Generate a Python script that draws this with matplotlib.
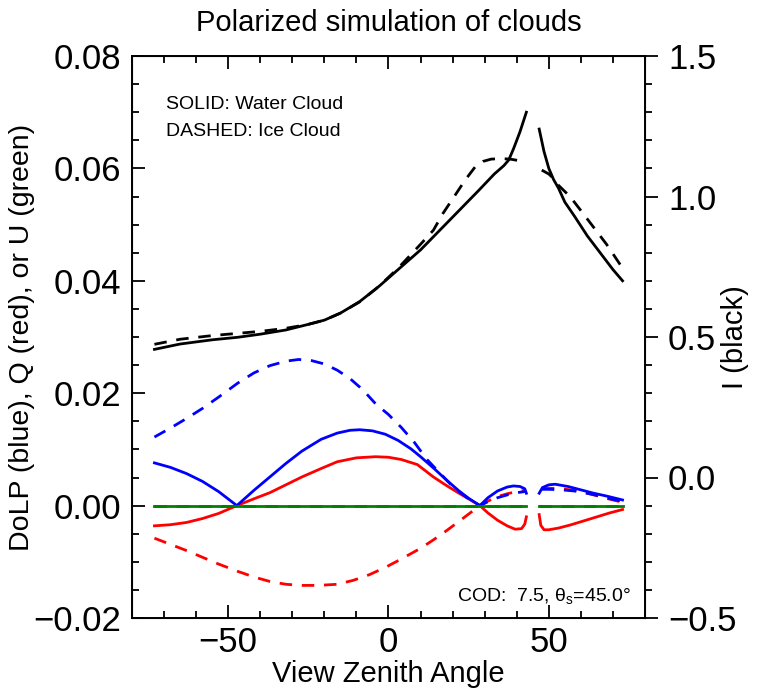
import numpy as np
import matplotlib
matplotlib.use("Agg")
import matplotlib.pyplot as plt
from matplotlib.ticker import MultipleLocator, FuncFormatter

plt.rcParams['font.family'] = ['Liberation Sans', 'DejaVu Sans']
plt.rcParams['mathtext.fontset'] = 'custom'
plt.rcParams['mathtext.rm'] = 'Liberation Sans'
plt.rcParams['mathtext.it'] = 'Liberation Sans:italic'

nan = np.nan

# I (black, right axis)
x_i_water = [-73, -65, -55, -47, -40, -32, -25, -20, -15, -9, -3, 3, 10, 16, 22, 28, 33, 36, 37.5, 39, 41, 43,
             45,
             47, 48.5, 50, 51.5, 53, 55, 58, 62, 66, 70, 73]
i_water = [0.456, 0.475, 0.49, 0.499, 0.51, 0.525, 0.545, 0.56, 0.585, 0.626, 0.68, 0.74, 0.81, 0.88, 0.95, 1.02,
           1.08, 1.11, 1.13, 1.17, 1.23, 1.30,
           nan,
           1.24, 1.16, 1.10, 1.06, 1.03, 0.98, 0.93, 0.86, 0.80, 0.74, 0.70]

x_i_ice = [-73, -65, -55, -47, -40, -32, -25, -20, -15, -9, -3, 3, 10, 14, 17, 20.5, 24, 27, 29.5, 32, 35, 38,
           40.5, 42.6,
           45,
           47.8, 50, 51.3, 53, 56.6, 60, 63.8, 68, 73]
i_ice = [0.474, 0.492, 0.505, 0.513, 0.52, 0.531, 0.545, 0.56, 0.585, 0.625, 0.68, 0.745, 0.83, 0.88, 0.94, 1.0,
         1.06, 1.105, 1.125, 1.133, 1.135, 1.133, 1.128, 1.123,
         nan,
         1.094, 1.08, 1.066, 1.04, 1.0, 0.95, 0.893, 0.83, 0.745]

# DoLP (blue)
x_d_water = [-73, -68, -63, -58, -53, -47.3, -42, -37, -32, -27, -21, -16, -12, -9, -5, -1, 3, 7, 10, 14, 18, 22,
             25, 28.5, 31, 34, 37, 39, 41, 42.5, 43,
             45,
             47, 48, 50, 52, 56, 60, 64, 68, 73]
d_water = [0.0076, 0.0068, 0.0057, 0.0043, 0.0025, 0.0, 0.0027, 0.0051, 0.0075, 0.0097, 0.0118, 0.0129, 0.0134,
           0.0135, 0.0133, 0.0127, 0.0116, 0.0101, 0.0087, 0.0067, 0.0046, 0.0026, 0.0013, 0.0, 0.0014, 0.0026,
           0.0033, 0.0035, 0.0034, 0.0030, 0.0022,
           nan,
           0.0022, 0.0032, 0.0037, 0.0038, 0.0034, 0.0028, 0.0022, 0.0017, 0.0010]

x_d_ice = [-73, -68, -63, -58, -53, -47, -42, -37, -32, -28, -24, -20, -16, -12, -8, -4, 0, 4, 8, 12, 16, 20, 24,
           26, 28.5, 31, 34, 37, 40, 42.6,
           45,
           47.8, 50, 54, 58, 62, 66, 70, 73]
d_ice = [0.0122, 0.0138, 0.0155, 0.0173, 0.0193, 0.0218, 0.0236, 0.0249, 0.0257, 0.0260, 0.0258, 0.0252, 0.0241,
         0.0226, 0.0206, 0.0181, 0.0162, 0.0139, 0.0113, 0.0082, 0.0058, 0.0034, 0.0016, 0.0008, 0.0, 0.0007,
         0.0014, 0.0019, 0.0023, 0.0025,
         nan,
         0.0029, 0.0029, 0.0028, 0.0026, 0.0022, 0.0017, 0.0011, 0.0008]

# Q (red)
x_q_water = [-73, -68, -63, -58, -53, -47.3, -42, -37, -32, -27, -21, -16, -10, -4, 0, 4, 9, 14, 18, 22, 25, 28.5,
             31, 34, 37, 39.5, 41.5, 42.5, 43,
             45,
             47, 47.5, 48.5, 50, 53, 57, 61, 65, 69, 73]
q_water = [-0.0036, -0.0034, -0.0030, -0.0023, -0.0014, 0.0, 0.0012, 0.0023, 0.0037, 0.0051, 0.0066, 0.0078,
           0.0085, 0.0087, 0.0086, 0.0082, 0.0073, 0.0051, 0.0036, 0.0022, 0.0012, 0.0, -0.0013, -0.0026, -0.0036,
           -0.0042, -0.0041, -0.0033, -0.0020,
           nan,
           -0.0016, -0.0035, -0.0043, -0.0043, -0.0040, -0.0034, -0.0027, -0.0020, -0.0013, -0.0007]

x_q_ice = [-73, -68, -63, -58, -53, -47, -42, -37, -32, -27, -22, -16, -11, -6, -1, 4, 10, 14, 18, 22, 25, 28.5,
           31, 34, 37, 40, 42.6,
           45,
           47.8, 50, 54, 58, 62, 66, 70, 73]
q_ice = [-0.0058, -0.0069, -0.0080, -0.0092, -0.0104, -0.0117, -0.0127, -0.0135, -0.0140, -0.0142, -0.0142,
         -0.0140, -0.0133, -0.0123, -0.0110, -0.0095, -0.0076, -0.0061, -0.0045, -0.0028, -0.0015, 0.0, 0.0008,
         0.0016, 0.0021, 0.0025, 0.0027,
         nan,
         0.0031, 0.0031, 0.0030, 0.0027, 0.0022, 0.0016, 0.0010, 0.0006]

# U (green)
x_u = [-73, 43, 45, 47, 73]
u_water = [0.0, 0.0, nan, 0.0, 0.0]
u_ice = [0.0, 0.0, nan, 0.0, 0.0]


def fmt(digits):
    return FuncFormatter(lambda v, p: ('%.*f' % (digits, v)).replace('-', '\u2212'))


fig = plt.figure(figsize=(7.65, 6.92), dpi=100)
ax = fig.add_axes([132 / 765, 1 - 618 / 692, 513 / 765, 562 / 692])

lw = 2.0
dash = (4.5, 3.5)
ax.plot(x_q_water, q_water, color='red', lw=lw)
ax.plot(x_q_ice, q_ice, color='red', lw=lw, ls='--', dashes=dash)
ax.plot(x_d_water, d_water, color='blue', lw=lw)
ax.plot(x_d_ice, d_ice, color='blue', lw=lw, ls='--', dashes=dash)
ax.plot(x_u, u_water, color='#008000', lw=lw)
ax.plot(x_u, u_ice, color='#008000', lw=lw, ls='--', dashes=dash)

ax.set_xlim(-80, 80)
ax.set_ylim(-0.02, 0.08)
ax.xaxis.set_major_locator(MultipleLocator(50))
ax.xaxis.set_minor_locator(MultipleLocator(10))
ax.xaxis.set_major_formatter(fmt(0))
ax.yaxis.set_major_locator(MultipleLocator(0.02))
ax.yaxis.set_minor_locator(MultipleLocator(0.005))
ax.yaxis.set_major_formatter(fmt(2))
ax.tick_params(which='both', direction='in', top=True, right=True, width=1.3, labelsize=25)
ax.tick_params(which='major', length=9.5)
ax.tick_params(which='minor', length=4.7)
ax.tick_params(axis='y', pad=8)
ax.tick_params(axis='x', pad=6)
for s in ax.spines.values():
    s.set_linewidth(1.4)

ax.set_xlabel('View Zenith Angle', fontsize=21)
ax.xaxis.set_label_coords(0.5, -0.074)
ax.set_ylabel('DoLP (blue), Q (red), or U (green)', fontsize=20.5)
ax.yaxis.set_label_coords(-0.19, 0.5)
ax.set_title('Polarized simulation of clouds', fontsize=21, pad=18)

ax.text(0.066, 0.913, 'SOLID: Water Cloud', transform=ax.transAxes, fontsize=14, va='center', ha='left')
ax.text(0.066, 0.865, 'DASHED: Ice Cloud', transform=ax.transAxes, fontsize=14, va='center', ha='left')
ax.text(0.973, 0.039, 'COD:  7.5, θ$_\\mathrm{s}$=45.0°', transform=ax.transAxes, fontsize=14,
        va='center', ha='right')

ax2 = ax.twinx()
ax2.plot(x_i_water, i_water, color='black', lw=lw)
ax2.plot(x_i_ice, i_ice, color='black', lw=lw, ls='--', dashes=dash)
ax2.set_ylim(-0.5, 1.5)
ax2.yaxis.set_major_locator(MultipleLocator(0.5))
ax2.yaxis.set_minor_locator(MultipleLocator(0.1))
ax2.yaxis.set_major_formatter(fmt(1))
ax2.tick_params(which='both', direction='out', width=1.3, labelsize=25, pad=7)
ax2.tick_params(which='major', length=9.5)
ax2.tick_params(which='minor', length=4.7)
ax2.set_ylabel('I (black)', fontsize=21)
ax2.yaxis.set_label_coords(1.148, 0.5)

fig.savefig('out.png', dpi=100)
